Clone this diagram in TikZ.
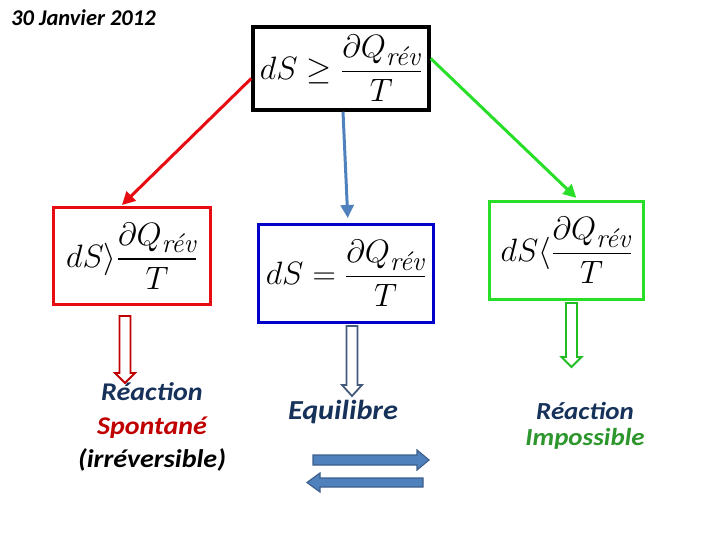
\documentclass[tikz,border=0pt]{standalone}
\usepackage{amsmath}
\usepackage{graphicx}
\usepackage{fontspec}
\newfontfamily\carl{Carlito}
\usetikzlibrary{arrows.meta}
\definecolor{bxred}{RGB}{230,12,18}
\definecolor{bxblue}{RGB}{0,0,200}
\definecolor{bxgreen}{RGB}{40,222,40}
\definecolor{steel}{RGB}{79,129,189}
\definecolor{steeldark}{RGB}{60,95,140}
\definecolor{darkred}{RGB}{192,0,0}
\definecolor{slate}{RGB}{68,90,125}
\definecolor{navy}{RGB}{23,50,90}
\definecolor{impgreen}{RGB}{45,150,45}
\newcommand\hdown[5]{%
  \draw[#1, line width=1.8pt, fill=white, line join=miter]
    (#2-5.5,#3) -- (#2+5.5,#3) -- (#2+5.5,#4) -- (#2+10,#4) -- (#2,#5)
    -- (#2-10,#4) -- (#2-5.5,#4) -- cycle;}
\newcommand\bigf[1]{\scalebox{1.3}{$\displaystyle #1$}}
\newcommand\hs[1]{\scalebox{1.1}[1]{#1}}
\tikzset{
  fbox/.style={draw, line width=3.5pt, fill=white, inner sep=0pt,
    font=\fontsize{24.88}{30}\selectfont},
  lbl/.style={inner sep=0pt, align=center},
  conn/.style={line width=3pt, -{Triangle[length=13pt,width=13pt]}},
  block/.style={fill=steel, draw=steeldark, line width=1.2pt, line join=miter}
}
\begin{document}
\begin{tikzpicture}[x=1pt,y=-1pt]
\useasboundingbox (0,0) rectangle (720,540);
\node[font=\carl\fontsize{22.5}{26}\selectfont\bfseries\itshape, anchor=west, inner sep=0pt] (title) at (11,18) {30 Janvier 2012};

\node[fbox, draw=black, minimum width=176pt, minimum height=83pt] (top) at (341,68.5)
  {\bigf{dS \geq \frac{\partial Q_{\textit{rév}}}{T}}};
\node[fbox, draw=bxred, line width=3pt, minimum width=157pt, minimum height=97pt] (red) at (132,256)
  {\bigf{dS\rangle\frac{\partial Q_{\textit{rév}}}{T}}};
\node[fbox, draw=bxblue, line width=3pt, minimum width=175pt, minimum height=98pt] (blue) at (346,273.5)
  {\bigf{dS = \frac{\partial Q_{\textit{rév}}}{T}}};
\node[fbox, draw=bxgreen, line width=3pt, minimum width=154pt, minimum height=98pt] (green) at (566.5,250.5)
  {\bigf{dS\langle\frac{\partial Q_{\textit{rév}}}{T}}};

\draw[conn, bxred] ([yshift=-10pt]top.west) -- ([xshift=-10pt,yshift=1pt]red.north);
\draw[conn, steel, shorten >=5pt] ([xshift=2pt]top.south) -- ([xshift=2pt]blue.north);
\draw[conn, bxgreen, shorten >=3pt] ([yshift=10pt]top.east) -- ([xshift=12pt]green.north);

\node[lbl, font=\carl\fontsize{25.5}{33.5}\selectfont\bfseries\itshape] (left) at (152,427)
  {\textcolor{navy}{\hs{Réaction}}\\ \textcolor{darkred}{\hs{Spontané}}\\ \hs{(irréversible)}};
\node[lbl, text=navy, font=\carl\fontsize{27.5}{32}\selectfont\bfseries\itshape] (eq) at (343,412) {\hs{Equilibre}};
\node[lbl, font=\carl\fontsize{24.5}{26}\selectfont\bfseries\itshape] (right) at (585,426)
  {\textcolor{navy}{\hs{Réaction}}\\ \textcolor{impgreen}{\hs{Impossible}}};

\hdown{darkred}{125}{316}{373}{383}
\hdown{slate}{352}{326}{385}{396}
\hdown{bxgreen!85!black}{571.5}{303}{357}{367}

\draw[block] (313,455) -- (417,455) -- (417,450) -- (429,460) -- (417,470) -- (417,465) -- (313,465) -- cycle;
\draw[block] (423,478) -- (320,478) -- (320,473) -- (307,482.5) -- (320,492) -- (320,487) -- (423,487) -- cycle;
\end{tikzpicture}
\end{document}
